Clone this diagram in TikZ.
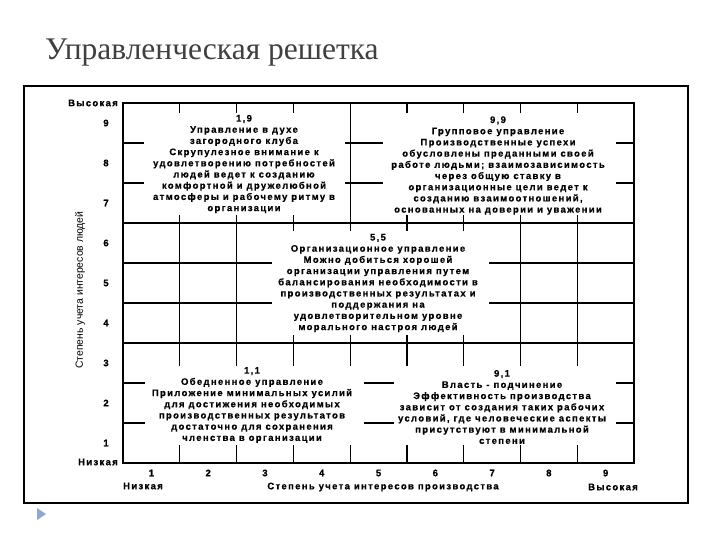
\documentclass[tikz,border=0pt]{standalone}
\usepackage{fontspec}
\setmainfont{Liberation Serif}
\newfontfamily\scanfont{Liberation Sans Bold}[LetterSpace=14,FakeBold=0.6]
\newfontfamily\axisfont{Liberation Sans}
\definecolor{titlegrey}{RGB}{64,64,64}
\definecolor{bullet}{RGB}{140,170,210}
\tikzset{
  frameline/.style={line width=1.6pt, black},
  gridline/.style={line width=1.2pt, black},
  blocktext/.style={font=\scanfont\fontsize{9.5}{11.2}\selectfont, align=center, inner sep=0pt},
  axislabel/.style={font=\scanfont\fontsize{9.5}{10}\selectfont, inner sep=0pt},
}
\begin{document}
\begin{tikzpicture}[x=1pt,y=-1pt]
\useasboundingbox (0,0) rectangle (720,540);
% title
\node[anchor=base west, inner sep=0pt, text=titlegrey, font=\fontsize{31.5}{34}\selectfont] (title) at (45,60) {Управленческая решетка};
% outer frame
\draw[line width=1.3pt] (24,86) rectangle (688,503);
% bullet triangle
\fill[bullet] (37,508) -- (46,514) -- (37,520) -- cycle;
% grid frame
\draw[frameline] (123,103) rectangle (634,463);
% full horizontals
\draw[gridline] (123,223) -- (634,223);
\draw[gridline] (123,343) -- (634,343);
% top region
\draw[gridline] (350.1,103) -- (350.1,231);
\foreach \x in {179.8,236.6,293.3,406.9,463.7,520.4,577.2} {
  \draw[gridline] (\x,103) -- (\x,113);
  \draw[gridline] (\x,463) -- (\x,445);
}
\foreach \y in {143,183} {
  \draw[gridline] (123,\y) -- (144,\y);
  \draw[gridline] (616,\y) -- (634,\y);
  \draw[gridline] (345,\y) -- (383,\y);
}
% middle region
\foreach \x in {179.8,236.6,520.4,577.2} {
  \draw[gridline] (\x,215) -- (\x,366);
}
\foreach \x in {293.3,406.9,463.7} {
  \draw[gridline] (\x,215) -- (\x,231);
}
\foreach \x in {293.3,350.1,406.9,463.7} {
  \draw[gridline] (\x,335) -- (\x,366);
}
\foreach \y in {263,303} {
  \draw[gridline] (123,\y) -- (272,\y);
  \draw[gridline] (489,\y) -- (634,\y);
}
% bottom region
\draw[gridline] (350.1,463) -- (350.1,445);
\foreach \y in {383,423} {
  \draw[gridline] (123,\y) -- (145,\y);
  \draw[gridline] (616,\y) -- (634,\y);
  \draw[gridline] (364,\y) -- (394,\y);
}
% y axis labels
\node[axislabel, anchor=east] (yhigh) at (118,103) {Высокая};
\node[axislabel, anchor=east] (ylow) at (118,462) {Низкая};
\foreach \n [count=\i from 0] in {9,8,7,6,5,4,3,2,1} {
  \node[axislabel] (yn\n) at (106,{123+40*\i}) {\n};
}
\node[font=\axisfont\fontsize{10.4}{11}\selectfont, rotate=90, inner sep=0pt] (ytitle) at (80,290) {Степень учета интересов людей};
% x axis labels
\foreach \n [count=\i from 0] in {1,2,3,4,5,6,7,8,9} {
  \node[axislabel] (xn\n) at ({151.4+56.78*\i},473) {\n};
}
\node[axislabel] (xlow) at (143,486) {Низкая};
\node[axislabel] (xtitle) at (383,487) {Степень учета интересов производства};
\node[axislabel] (xhigh) at (613,487) {Высокая};
% blocks
\node[blocktext] (b19) at (244,164) {1,9\\Управление в духе\\загородного клуба\\Скрупулезное внимание к\\удовлетворению потребностей\\людей ведет к созданию\\комфортной и дружелюбной\\атмосферы и рабочему ритму в\\организации};
\node[blocktext] (b99) at (498,165.5) {9,9\\Групповое управление\\Производственные успехи\\обусловлены преданными своей\\работе людьми; взаимозависимость\\через общую ставку в\\организационные цели ведет к\\созданию взаимоотношений,\\основанных на доверии и уважении};
\node[blocktext] (b55) at (378,283) {5,5\\Организационное управление\\Можно добиться хорошей\\организации управления путем\\балансирования необходимости в\\производственных результатах и\\поддержания на\\удовлетворительном уровне\\морального настроя людей};
\node[blocktext] (b11) at (252,405) {1,1\\Обедненное управление\\Приложение минимальных усилий\\для достижения необходимых\\производственных результатов\\достаточно для сохранения\\членства в организации};
\node[blocktext] (b91) at (502,407) {9,1\\Власть - подчинение\\Эффективность производства\\зависит от создания таких рабочих\\условий, где человеческие аспекты\\присутствуют в минимальной\\степени};
\end{tikzpicture}
\end{document}
